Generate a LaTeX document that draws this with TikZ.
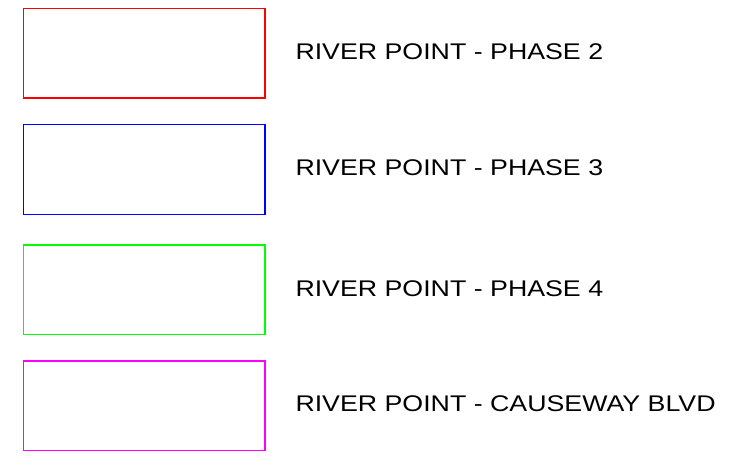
\documentclass[tikz,border=0pt]{standalone}
\usepackage{fontspec}
\setmainfont{Liberation Sans}
\begin{document}
\begin{tikzpicture}[x=0.75pt,y=-0.75pt,
  swatch/.style={draw, line width=0.9pt, minimum width=181.1pt, minimum height=67.1pt, inner sep=0pt, outer sep=0pt},
  legendtext/.style={anchor=base west, inner sep=0pt, outer sep=0pt, font=\fontsize{17}{20}\selectfont}]
\useasboundingbox (0,0) rectangle (736,455);
\definecolor{cred}{RGB}{255,0,0}
\definecolor{cblue}{RGB}{0,0,255}
\definecolor{cgreen}{RGB}{0,255,0}
\definecolor{cmag}{RGB}{255,0,255}
\node[swatch, draw=cred] (r1) at (144.25,53.25) {};
\node[swatch, draw=cblue] (r2) at (144.25,169.5) {};
\node[swatch, draw=cgreen] (r3) at (144.25,289.75) {};
\node[swatch, draw=cmag] (r4) at (144.25,405.75) {};
\node[legendtext] (t1) at (295.5,59) {\scalebox{1.18}[1]{RIVER POINT - PHASE 2}};
\node[legendtext] (t2) at (295.5,175) {\scalebox{1.18}[1]{RIVER POINT - PHASE 3}};
\node[legendtext] (t3) at (295.5,296) {\scalebox{1.18}[1]{RIVER POINT - PHASE 4}};
\node[legendtext] (t4) at (295.5,411) {\scalebox{1.18}[1]{RIVER POINT - CAUSEWAY BLVD}};
\end{tikzpicture}
\end{document}
